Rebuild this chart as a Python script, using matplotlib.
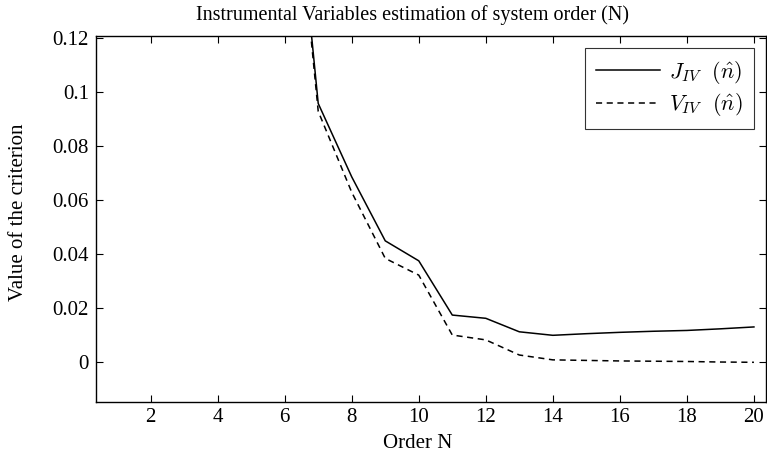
import numpy as np
import matplotlib
matplotlib.use("Agg")
import matplotlib.pyplot as plt
from matplotlib.ticker import FormatStrFormatter

plt.rcParams['font.family'] = ['Liberation Serif', 'DejaVu Serif']
plt.rcParams['mathtext.fontset'] = 'cm'

# order N and criterion values
order = [6, 7, 8, 9, 10, 11, 12, 13, 14, 15, 16, 17, 18, 19, 20]
J_iv = [0.222, 0.0959, 0.0687, 0.0450, 0.0376, 0.0175, 0.0163, 0.0113, 0.0100,
        0.0106, 0.0111, 0.0115, 0.0118, 0.0124, 0.0131]
V_iv = [0.220, 0.0930, 0.0630, 0.0385, 0.0323, 0.0101, 0.0083, 0.0027, 0.0009,
        0.0007, 0.0005, 0.0004, 0.0003, 0.0001, 0.0000]

xticks = [2, 4, 6, 8, 10, 12, 14, 16, 18, 20]
yticks = [0, 0.02, 0.04, 0.06, 0.08, 0.1, 0.12]

W, H = 767, 458
fig = plt.figure(figsize=(W/100, H/100), dpi=100)
ax = fig.add_axes([96/W, 1-401.7/H, 670/W, (401.7-36)/H])

ax.plot(order, J_iv, color='black', lw=1.1, ls='-', label=r'$J_{IV}\ \ (\hat{n})$')
ax.plot(order, V_iv, color='black', lw=1.1, ls=(0, (4, 3)), label=r'$V_{IV}\ \ (\hat{n})$')

ax.set_xlim(0.37, 20.36)
ax.set_ylim(-0.0146, 0.1209)
ax.set_xticks(xticks)
ax.set_yticks(yticks)
ax.yaxis.set_major_formatter(FormatStrFormatter('%g'))
ax.tick_params(direction='in', top=True, right=True, labelsize=15, length=5, width=0.8)
ax.tick_params(axis='y', pad=5)
ax.tick_params(axis='x', pad=4.5)
for s in ax.spines.values():
    s.set_linewidth(1.0)

fig.text(418/W, 1-443/H, 'Order N', ha='center', va='center', fontsize=15)
fig.text(19/W, 1-212/H, 'Value of the criterion', ha='center', va='center',
         rotation=90, fontsize=15)
fig.text(413/W, 1-15/H, 'Instrumental Variables estimation of system order (N)',
         ha='center', va='center', fontsize=14.5)

leg = ax.legend(loc='upper right', fontsize=16, frameon=True, fancybox=False,
                edgecolor='black', handlelength=2.9, borderaxespad=0,
                borderpad=0.5, labelspacing=0.25, handletextpad=0.4,
                bbox_to_anchor=(754/W, 1-47.7/H), bbox_transform=fig.transFigure)
leg.get_frame().set_linewidth(0.8)

fig.savefig('out.png', dpi=100)
